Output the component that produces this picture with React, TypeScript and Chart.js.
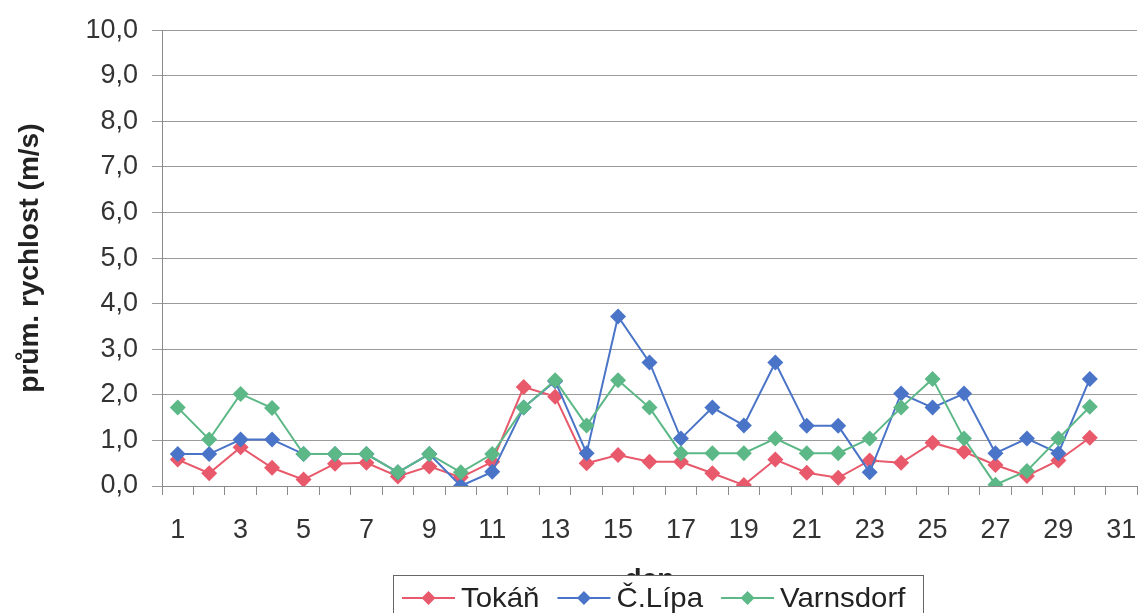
import React, { useEffect, useRef } from "react";
import { Chart, registerables } from "chart.js";

Chart.register(...registerables);

const days = [
  "1", "2", "3", "4", "5", "6", "7", "8", "9", "10",
  "11", "12", "13", "14", "15", "16", "17", "18", "19", "20",
  "21", "22", "23", "24", "25", "26", "27", "28", "29", "30", "31",
];

const seriesNames = ["Tokáň", "Č.Lípa", "Varnsdorf"];
const seriesColors = ["#e8596b", "#4a74c8", "#5cb886"];

const tokan = [
  0.58, 0.28, 0.85, 0.4, 0.14, 0.49, 0.51, 0.21, 0.43, 0.19,
  0.53, 2.17, 1.96, 0.5, 0.68, 0.53, 0.53, 0.28, 0.02, 0.58,
  0.29, 0.18, 0.56, 0.51, 0.95, 0.75, 0.46, 0.22, 0.56, 1.06,
];
const ceskaLipa = [
  0.7, 0.7, 1.02, 1.02, 0.7, 0.7, 0.7, 0.3, 0.7, 0.0,
  0.31, 1.72, 2.3, 0.72, 3.72, 2.71, 1.04, 1.72, 1.33, 2.71,
  1.32, 1.32, 0.3, 2.03, 1.72, 2.03, 0.72, 1.04, 0.72, 2.35,
];
const varnsdorf = [
  1.72, 1.02, 2.02, 1.71, 0.7, 0.7, 0.7, 0.3, 0.7, 0.3,
  0.7, 1.72, 2.32, 1.33, 2.32, 1.72, 0.72, 0.72, 0.72, 1.04,
  0.72, 0.72, 1.04, 1.72, 2.35, 1.04, 0.03, 0.33, 1.04, 1.74,
];

const yMin = 0;
const yMax = 10;
const yStep = 1;
const yTitle = "prům. rychlost (m/s)";
const xTitle = "den";

const FONT = '"Liberation Sans", Arial, sans-serif';

const boxLegend = {
  id: "boxLegend",
  afterDraw(chart: any) {
    const ctx = chart.ctx as CanvasRenderingContext2D;
    ctx.save();
    const bx = 393, by = 575, bw = 530, bh = 60;
    ctx.fillStyle = "#ffffff";
    ctx.fillRect(bx, by, bw, bh);
    ctx.strokeStyle = "#666666";
    ctx.lineWidth = 1;
    ctx.strokeRect(bx + 0.5, by + 0.5, bw, bh);
    ctx.font = "28px " + FONT;
    ctx.textBaseline = "middle";
    ctx.textAlign = "left";
    const sx = 1.05;
    let x = 402;
    const cy = 598;
    chart.data.datasets.forEach((ds: any) => {
      const c = ds.borderColor;
      ctx.strokeStyle = c;
      ctx.lineWidth = 2;
      ctx.beginPath();
      ctx.moveTo(x, cy);
      ctx.lineTo(x + 53, cy);
      ctx.stroke();
      ctx.fillStyle = c;
      const r = 7;
      const dx = x + 26.5;
      ctx.beginPath();
      ctx.moveTo(dx, cy - r);
      ctx.lineTo(dx + r, cy);
      ctx.lineTo(dx, cy + r);
      ctx.lineTo(dx - r, cy);
      ctx.closePath();
      ctx.fill();
      ctx.fillStyle = "#222222";
      const tx = x + 59;
      ctx.save();
      ctx.translate(tx, cy + 1);
      ctx.scale(sx, 1);
      ctx.fillText(ds.label, 0, 0);
      ctx.restore();
      x = tx + ctx.measureText(ds.label).width * sx + 18;
    });
    ctx.restore();
  },
};

export default function App() {
  const ref = useRef<HTMLCanvasElement | null>(null);

  useEffect(() => {
    if (!ref.current) return;
    const values = [tokan, ceskaLipa, varnsdorf];
    const orders = [2, 1, 0];
    const chart = new Chart(ref.current, {
      type: "line",
      data: {
        labels: days,
        datasets: values.map((v, i) => ({
          label: seriesNames[i],
          data: v,
          borderColor: seriesColors[i],
          backgroundColor: seriesColors[i],
          pointBackgroundColor: seriesColors[i],
          pointBorderColor: seriesColors[i],
          pointStyle: "rectRot",
          pointRadius: 8,
          pointBorderWidth: 0,
          borderWidth: 2,
          tension: 0,
          fill: false,
          order: orders[i],
        })),
      },
      options: {
        animation: false,
        responsive: false,
        maintainAspectRatio: false,
        layout: { padding: { left: 0, right: 4, top: 28, bottom: 0 } },
        plugins: {
          legend: { display: false },
          tooltip: { enabled: false },
        },
        scales: {
          x: {
            type: "category",
            offset: true,
            grid: {
              display: true,
              offset: true,
              drawOnChartArea: false,
              drawTicks: true,
              tickLength: 9,
              color: "#8a8a8a",
            },
            border: { display: true, color: "#8a8a8a", width: 1 },
            ticks: {
              autoSkip: false,
              maxRotation: 0,
              padding: 19,
              color: "#333333",
              font: { family: FONT, size: 27 },
              callback: function (this: any, _v: any, i: number) {
                return i % 2 === 0 ? days[i] : "";
              },
            },
            title: {
              display: true,
              text: xTitle,
              color: "#222222",
              font: { family: FONT, size: 28, weight: "bold" },
              padding: { top: 0, bottom: 16 },
            },
            afterFit: (scale: any) => {
              scale.height = 127;
              scale.paddingLeft = 0;
              scale.paddingRight = 0;
            },
          },
          y: {
            min: yMin,
            max: yMax,
            grid: {
              color: "#9a9a9a",
              tickLength: 10,
              drawTicks: true,
            },
            border: { display: true, color: "#8a8a8a", width: 1 },
            ticks: {
              stepSize: yStep,
              padding: 14,
              color: "#333333",
              font: { family: FONT, size: 27 },
              callback: (v: any) => Number(v).toFixed(1).replace(".", ","),
            },
            title: {
              display: true,
              text: yTitle,
              color: "#222222",
              font: { family: FONT, size: 28, weight: "bold" },
              padding: { top: 13, bottom: 0 },
            },
            afterFit: (scale: any) => {
              scale.width = 162;
            },
          },
        },
      },
      plugins: [boxLegend],
    } as any);
    return () => chart.destroy();
  }, []);

  return (
    <div
      style={{
        position: "fixed",
        left: 0,
        top: 0,
        width: 1145,
        height: 613,
        background: "#ffffff",
        overflow: "hidden",
      }}
    >
      <canvas ref={ref} width={1145} height={613} style={{ display: "block" }} />
    </div>
  );
}
